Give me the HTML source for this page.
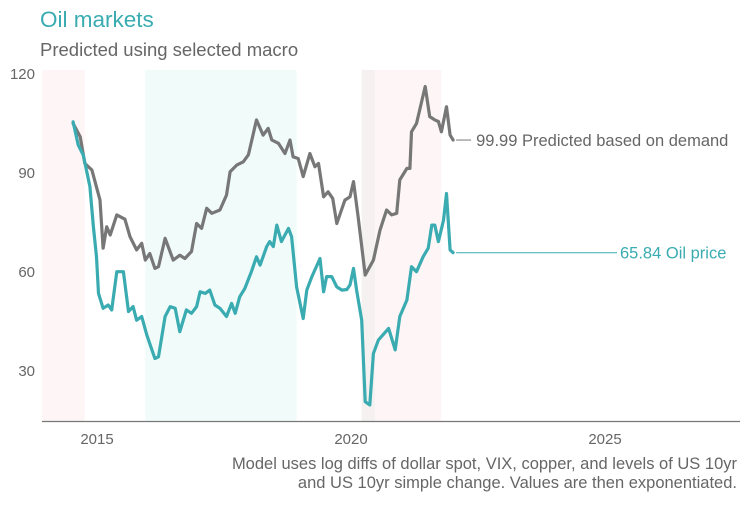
<!DOCTYPE html>
<html><head><meta charset="utf-8"><style>
body{margin:0;background:#fff;width:750px;height:500px;overflow:hidden}
svg text{font-family:"Liberation Sans",Arial,sans-serif}
</style></head><body>
<svg id="chart" width="750" height="500" viewBox="0 0 750 500" xmlns="http://www.w3.org/2000/svg">
<text x="40" y="27" font-size="22.5" fill="#3aacb1">Oil markets</text>
<text x="40" y="56" font-size="18.5" fill="#666">Predicted using selected macro</text>
<g id="bands"></g>
<g id="yaxis"></g>
<g id="xaxis"></g>
<line x1="42" y1="421.5" x2="740" y2="421.5" stroke="#777" stroke-width="1.3"/>
<g id="series"></g>
<text x="737" y="469" font-size="16.5" fill="#666" text-anchor="end">Model uses log diffs of dollar spot, VIX, copper, and levels of US 10yr</text>
<text x="737" y="488" font-size="16.5" fill="#666" text-anchor="end">and US 10yr simple change. Values are then exponentiated.</text>
</svg>
<script>
const predDates=[2014.53,2014.67,2014.76,2014.90,2015.06,2015.12,2015.19,2015.26,2015.39,2015.55,2015.65,2015.78,2015.88,2015.95,2016.04,2016.14,2016.21,2016.34,2016.50,2016.63,2016.73,2016.86,2016.96,2017.06,2017.16,2017.26,2017.42,2017.55,2017.62,2017.75,2017.88,2017.98,2018.14,2018.27,2018.37,2018.44,2018.57,2018.70,2018.80,2018.86,2018.96,2019.06,2019.19,2019.29,2019.36,2019.46,2019.55,2019.64,2019.72,2019.88,2019.98,2020.05,2020.14,2020.28,2020.44,2020.57,2020.70,2020.80,2020.90,2020.96,2021.10,2021.16,2021.19,2021.29,2021.46,2021.55,2021.65,2021.72,2021.78,2021.88,2021.95,2022.01];
const predValues=[105.0,101.0,92.9,90.9,81.8,67.2,73.7,71.2,77.3,76.0,70.7,66.7,68.7,63.6,65.6,61.1,61.6,70.2,63.6,65.1,64.1,66.2,74.7,73.2,79.3,77.8,78.8,83.3,90.4,92.4,93.4,95.5,106.1,101.5,103.5,100.0,99.0,95.9,100.0,94.9,94.4,88.9,95.9,91.9,92.9,82.8,84.3,82.3,74.7,81.8,82.8,87.4,76.8,59.1,63.6,72.7,78.8,77.3,77.8,87.9,91.4,91.4,102.5,105.0,116.2,107.1,106.1,105.6,102.5,110.1,101.5,99.99];
const oilDates=[2014.53,2014.63,2014.73,2014.86,2014.93,2014.99,2015.03,2015.12,2015.22,2015.29,2015.39,2015.52,2015.62,2015.71,2015.78,2015.88,2015.98,2016.14,2016.21,2016.34,2016.44,2016.54,2016.63,2016.76,2016.86,2016.96,2017.03,2017.13,2017.22,2017.32,2017.42,2017.55,2017.65,2017.72,2017.81,2017.91,2018.04,2018.14,2018.21,2018.34,2018.40,2018.47,2018.54,2018.63,2018.77,2018.83,2018.93,2019.06,2019.13,2019.23,2019.39,2019.46,2019.52,2019.62,2019.72,2019.82,2019.92,2019.98,2020.05,2020.11,2020.21,2020.28,2020.37,2020.44,2020.54,2020.74,2020.87,2020.96,2021.10,2021.19,2021.29,2021.42,2021.52,2021.59,2021.65,2021.72,2021.82,2021.88,2021.95,2022.01];
const oilValues=[105.5,98.5,95.4,85.9,73.7,64.6,53.5,49.0,50.0,48.5,60.1,60.1,48.0,49.5,45.4,46.5,40.9,33.8,34.3,46.5,49.5,49.0,41.9,48.5,47.5,49.5,54.0,53.5,54.5,50.0,49.0,46.5,50.5,47.5,52.5,55.0,60.1,64.6,62.1,67.7,69.2,67.7,74.2,69.2,73.2,70.7,55.5,45.9,54.5,58.6,64.1,54.0,58.6,58.6,55.5,54.5,54.7,56.1,61.1,54.5,45.4,20.7,19.7,35.3,39.4,42.9,36.4,46.5,51.5,61.6,60.1,64.6,67.2,74.2,74.2,69.2,75.7,83.8,66.7,65.84];
const yTicks=[30,60,90,120];
const xTicks=[2015,2020,2025];
const bandStarts=[2013.92,2015.95,2020.21,2020.47];
const bandEnds=[2014.76,2018.93,2020.47,2021.78];
const bandKinds=['pink','teal','gray','pink'];

const NS='http://www.w3.org/2000/svg';
const X=t=>97+(t-2015)*50.8;
const Y=v=>74+(120-v)*3.3;
function mk(tag,attrs,parent){const e=document.createElementNS(NS,tag);for(const k in attrs)e.setAttribute(k,attrs[k]);parent.appendChild(e);return e;}
const bands=document.getElementById('bands');
const fills={pink:'#fef6f6',teal:'#f1fcfa',gray:'#f5f1f1'};
bandStarts.forEach((s,i)=>{const r=mk('rect',{x:X(s),y:70,width:X(bandEnds[i])-X(s),height:351,fill:fills[bandKinds[i]]},bands);

});
const ya=document.getElementById('yaxis');
yTicks.forEach(v=>{const t=mk('text',{x:35,y:Y(v)+5,'font-size':15,fill:'#666','text-anchor':'end'},ya);t.textContent=v;

});
const xa=document.getElementById('xaxis');
xTicks.forEach(v=>{const t=mk('text',{x:X(v),y:444,'font-size':15,fill:'#666','text-anchor':'middle'},xa);t.textContent=v;

});
const sg=document.getElementById('series');
function line(d,v,col,name){const pts=d.map((t,i)=>X(t).toFixed(1)+','+Y(v[i]).toFixed(1)).join(' ');
const p=mk('polyline',{points:pts,fill:'none',stroke:col,'stroke-width':3.2,'stroke-linejoin':'round','stroke-linecap':'round'},sg);

}
line(predDates,predValues,'#777777','predicted-line');
line(oilDates,oilValues,'#3aacb1','oil-price-line');
const lp=predValues[predValues.length-1], lo=oilValues[oilValues.length-1];
const lx=X(predDates[predDates.length-1]);
const c1=mk('line',{x1:lx+3,y1:Y(lp),x2:lx+18,y2:Y(lp),stroke:'#777','stroke-width':1},sg);


const t1=mk('text',{x:lx+23,y:Y(lp)+6,'font-size':16.5,fill:'#666'},sg);t1.textContent=lp.toFixed(2)+' Predicted based on demand';


const c2=mk('line',{x1:lx+3,y1:Y(lo),x2:617,y2:Y(lo),stroke:'#3aacb1','stroke-width':1},sg);


const t2=mk('text',{x:620,y:Y(lo)+6,'font-size':16.5,fill:'#3aacb1'},sg);t2.textContent=lo.toFixed(2)+' Oil price';


</script>
</body></html>
